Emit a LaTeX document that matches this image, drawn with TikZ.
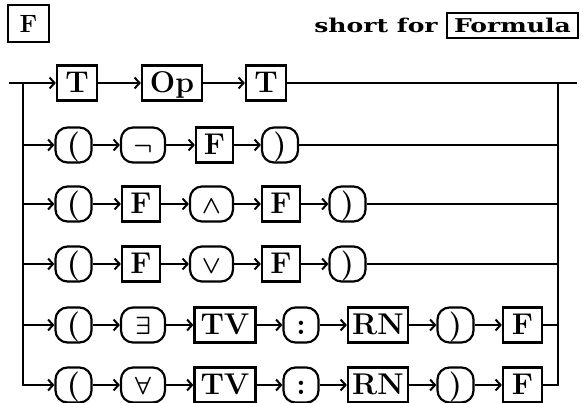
\documentclass[tikz,border=0pt]{standalone}
\usepackage{fontspec}
\usetikzlibrary{arrows.meta}
\newfontfamily\headfont[FakeStretch=1.32]{DejaVu Serif}
\begin{document}
\begin{tikzpicture}[x=1pt,y=-1pt,
  line/.style={line width=2.2pt},
  conn/.style={line width=2.2pt,-{Straight Barb[length=5pt,width=11pt,line width=2pt]}},
  box/.style={draw,line width=2.2pt,minimum height=35pt,inner sep=0pt,
    text height=21pt,text depth=2pt,font=\boldmath\bfseries\fontsize{30}{32}\selectfont},
  nt/.style={box},
  tm/.style={box,rounded corners=12pt},
  head/.style={font=\headfont\bfseries\fontsize{19}{21}\selectfont},
]
\useasboundingbox (0,0) rectangle (586,402);

% heading
\node[draw,line width=2.2pt,minimum width=41pt,minimum height=37pt,inner sep=0pt,
  font=\bfseries\fontsize{25}{26}\selectfont] (title) at (28.5,23.5) {F};
\node[draw,line width=2.2pt,minimum width=131pt,minimum height=25pt,inner sep=0pt,head]
  (long) at (512.5,25.5) {Formula};
\node[anchor=base east,inner sep=0pt,head] (sf) at ([xshift=-8pt]long.base west) {short for};

% row 1
\node[nt,minimum width=40pt] (r1a) at (77,83) {T};
\node[nt,minimum width=60pt] (r1b) at (172,83) {Op};
\node[nt,minimum width=40pt] (r1c) at (266,83) {T};

% row 2
\node[tm,minimum width=36pt] (r2a) at (73.5,145) {(};
\node[tm,minimum width=44pt] (r2b) at (143,145) {$\neg$};
\node[nt,minimum width=37pt] (r2c) at (214.5,145) {F};
\node[tm,minimum width=36pt] (r2d) at (280,145) {)};

% row 3
\node[tm,minimum width=36pt] (r3a) at (73.5,204) {(};
\node[nt,minimum width=38pt] (r3b) at (141,204) {F};
\node[tm,minimum width=43pt] (r3c) at (211.5,204) {$\wedge$};
\node[nt,minimum width=38pt] (r3d) at (281,204) {F};
\node[tm,minimum width=36pt] (r3e) at (347.5,204) {)};

% row 4
\node[tm,minimum width=36pt] (r4a) at (73.5,264) {(};
\node[nt,minimum width=38pt] (r4b) at (141,264) {F};
\node[tm,minimum width=43pt] (r4c) at (211.5,264) {$\vee$};
\node[nt,minimum width=38pt] (r4d) at (281,264) {F};
\node[tm,minimum width=36pt] (r4e) at (347.5,264) {)};

% row 5
\node[tm,minimum width=36pt] (r5a) at (73.5,325) {(};
\node[tm,minimum width=44pt] (r5b) at (143,325) {$\exists$};
\node[nt,minimum width=61pt] (r5c) at (225,325) {TV};
\node[tm,minimum width=35pt] (r5d) at (301,325) {:};
\node[nt,minimum width=60pt] (r5e) at (378,325) {RN};
\node[tm,minimum width=36pt] (r5f) at (455.5,325) {)};
\node[nt,minimum width=39pt] (r5g) at (522.5,325) {F};

% row 6
\node[tm,minimum width=36pt] (r6a) at (73.5,385) {(};
\node[tm,minimum width=44pt] (r6b) at (143,385) {$\forall$};
\node[nt,minimum width=61pt] (r6c) at (225,385) {TV};
\node[tm,minimum width=35pt] (r6d) at (301,385) {:};
\node[nt,minimum width=60pt] (r6e) at (378,385) {RN};
\node[tm,minimum width=36pt] (r6f) at (455.5,385) {)};
\node[nt,minimum width=39pt] (r6g) at (522.5,385) {F};

% rails
\coordinate (in) at (9,83);
\coordinate (lt) at (23,83);
\coordinate (rt) at (558,83);
\coordinate (out) at (577,83);

\draw[line] (in) -- (lt);
\draw[conn] (lt) -- (r1a);
\draw[conn] (lt) |- (r6a);
\foreach \r in {2,3,4,5}{ \draw[conn] (lt |- r\r a) -- (r\r a); }

\draw[conn] (r1a) -- (r1b);
\draw[conn] (r1b) -- (r1c);
\draw[line] (r1c) -- (out);

\draw[conn] (r2a) -- (r2b);
\draw[conn] (r2b) -- (r2c);
\draw[conn] (r2c) -- (r2d);
\draw[line] (r2d) -- (rt |- r2d);

\foreach \r in {3,4}{
  \draw[conn] (r\r a) -- (r\r b);
  \draw[conn] (r\r b) -- (r\r c);
  \draw[conn] (r\r c) -- (r\r d);
  \draw[conn] (r\r d) -- (r\r e);
  \draw[line] (r\r e) -- (rt |- r\r e);
}

\foreach \r in {5,6}{
  \draw[conn] (r\r a) -- (r\r b);
  \draw[conn] (r\r b) -- (r\r c);
  \draw[conn] (r\r c) -- (r\r d);
  \draw[conn] (r\r d) -- (r\r e);
  \draw[conn] (r\r e) -- (r\r f);
  \draw[conn] (r\r f) -- (r\r g);
}
\draw[line] (r5g) -- (rt |- r5g);
\draw[line] (r6g) -| (rt);
\end{tikzpicture}
\end{document}
